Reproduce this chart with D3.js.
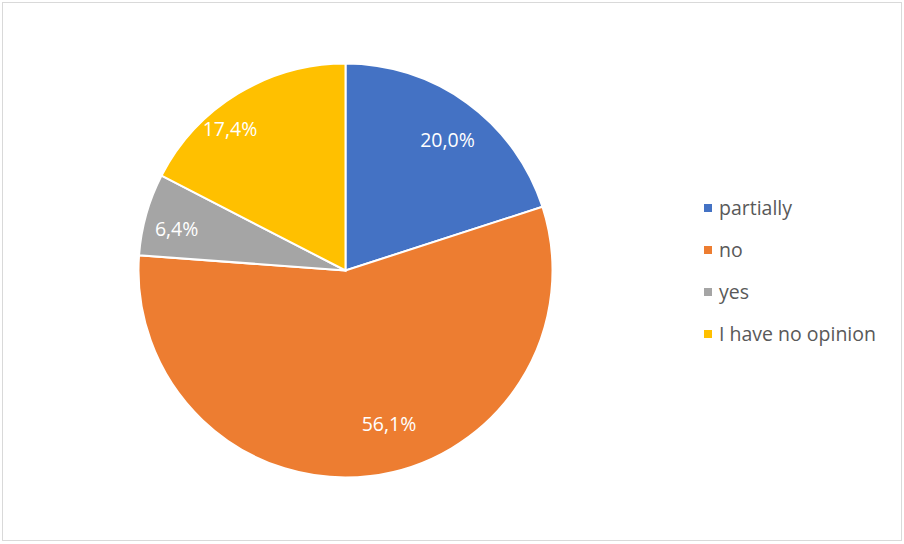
<!DOCTYPE html>
<html>
<head>
<meta charset="utf-8">
<script src="https://cdn.jsdelivr.net/npm/d3@7"></script>
<style>
  body { margin: 0; background: #fff; }
  svg { display: block; font-family: "Open Sans", "Noto Sans", sans-serif; }
</style>
</head>
<body>
<div id="chart"></div>
<script>
// data
var categories = ["partially", "no", "yes", "I have no opinion"];
var values = [20.0, 56.1, 6.4, 17.4];
var colors = ["#4472C4", "#ED7D31", "#A5A5A5", "#FFC000"];

var width = 904, height = 544;
var cx = 345.5, cy = 270.5, radius = 207;

var svg = d3.select("#chart")
  .append("svg")
  .attr("width", width)
  .attr("height", height);

// outer frame
svg.append("rect")
  .attr("x", 2.5).attr("y", 2.5)
  .attr("width", width - 5).attr("height", height - 6)
  .attr("fill", "#fff")
  .attr("stroke", "#d9d9d9")
  .attr("stroke-width", 1);

var pie = d3.pie().sort(null).value(function (d) { return d; });
var arcs = pie(values);

var arc = d3.arc().innerRadius(0).outerRadius(radius);

var g = svg.append("g")
  .attr("transform", "translate(" + cx + "," + cy + ")");

g.selectAll("path")
  .data(arcs)
  .enter()
  .append("path")
  .attr("d", arc)
  .attr("fill", function (d, i) { return colors[i]; })
  .attr("stroke", "#fff")
  .attr("stroke-width", 2);

// label placement tweaks (Excel "best fit" doesn't sit exactly on the centroid)
var labelRadius = [0.8, 0.77, 0.84, 0.88];
var labelTurn = [2, -9, -2, -8]; // degrees

g.selectAll("text.lbl")
  .data(arcs)
  .enter()
  .append("text")
  .attr("class", "lbl")
  .attr("transform", function (d, i) {
    var a = (d.startAngle + d.endAngle) / 2 + labelTurn[i] * Math.PI / 180;
    var r = radius * labelRadius[i];
    return "translate(" + (Math.sin(a) * r) + "," + (-Math.cos(a) * r) + ")";
  })
  .attr("text-anchor", "middle")
  .attr("dy", "0.35em")
  .attr("fill", "#fff")
  .style("font-size", "19.5px")
  .text(function (d) { return d3.format(".1f")(d.data).replace(".", ",") + "%"; });

// legend
var legend = svg.append("g").attr("transform", "translate(704,208)");
var item = legend.selectAll("g")
  .data(categories)
  .enter()
  .append("g")
  .attr("transform", function (d, i) { return "translate(0," + (i * 42) + ")"; });

item.append("rect")
  .attr("x", 0).attr("y", -4)
  .attr("width", 8).attr("height", 8)
  .attr("fill", function (d, i) { return colors[i]; });

item.append("text")
  .attr("x", 15)
  .attr("dy", "0.35em")
  .attr("fill", "#595959")
  .style("font-size", "19.5px")
  .text(function (d) { return d; });
</script>
</body>
</html>
